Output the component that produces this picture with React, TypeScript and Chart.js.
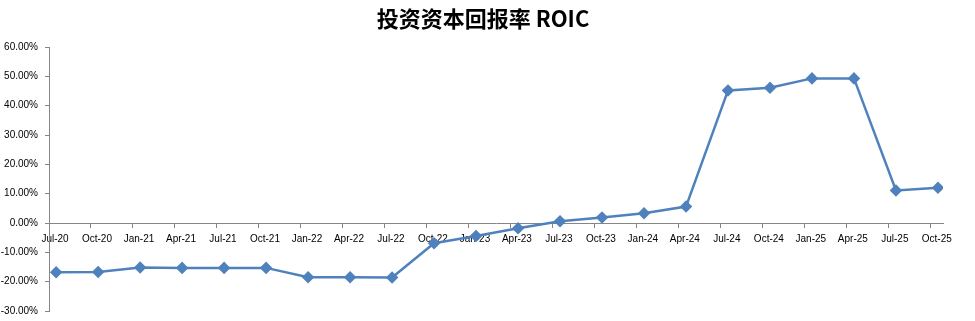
import React, { useEffect, useRef } from "react";
import { Chart, registerables } from "chart.js";

Chart.register(...registerables);

// Quarter labels shown under the axis
const quarters = [
  "Jul-20", "Oct-20", "Jan-21", "Apr-21", "Jul-21", "Oct-21",
  "Jan-22", "Apr-22", "Jul-22", "Oct-22", "Jan-23", "Apr-23",
  "Jul-23", "Oct-23", "Jan-24", "Apr-24", "Jul-24", "Oct-24",
  "Jan-25", "Apr-25", "Jul-25", "Oct-25",
];

// ROIC in percent, one value per quarter
const roic = [
  -16.8, -16.7, -15.2, -15.3, -15.3, -15.3,
  -18.5, -18.5, -18.6, -6.9, -4.4, -1.8,
  0.6, 1.9, 3.3, 5.6, 45.2, 46.1,
  49.3, 49.3, 11.1, 12.0,
];

const yTicksMin = -30;
const yTicksMax = 60;
const yStep = 10;

const title = "投资资本回报率 ROIC";

// Report dates sit a little after each quarter's tick on the date axis
const pointShift = 0.17;

const titlePlugin = {
  id: "centerTitle",
  afterDraw(chart: any) {
    const { ctx } = chart;
    ctx.save();
    ctx.font = 'bold 22px "Noto Sans CJK SC", sans-serif';
    ctx.fillStyle = "#000000";
    ctx.textAlign = "center";
    ctx.textBaseline = "middle";
    ctx.fillText(title, 483, 19);
    ctx.restore();
  },
};

export default function App() {
  const ref = useRef<HTMLCanvasElement | null>(null);

  useEffect(() => {
    if (!ref.current) return;
    const axisColor = "#868686";
    const tickFont = { family: '"Liberation Sans", Arial, sans-serif', size: 10 };
    const chart = new Chart(ref.current, {
      type: "line",
      data: {
        datasets: [
          {
            label: "ROIC",
            data: roic.map((v, i) => ({ x: i + pointShift, y: v })),
            borderColor: "#4F81BD",
            backgroundColor: "#4F81BD",
            borderWidth: 2.5,
            pointStyle: "rectRot",
            pointRadius: 4.5,
            pointBackgroundColor: "#4F81BD",
            pointBorderColor: "#4F81BD",
            tension: 0,
          },
        ],
      },
      options: {
        animation: false,
        responsive: false,
        maintainAspectRatio: false,
        layout: { padding: { top: 47, right: 32, bottom: 10, left: 0 } },
        plugins: {
          legend: { display: false },
          title: { display: false },
          tooltip: { enabled: false },
        },
        scales: {
          x: {
            type: "linear",
            position: { y: 0 },
            min: 0,
            max: 21.29,
            afterBuildTicks: (scale: any) => {
              scale.ticks = quarters.map((_, i) => ({ value: i }));
            },
            // the axis runs through zero, so it takes no room at the bottom
            afterFit: (scale: any) => {
              scale.height = 0;
            },
            grid: {
              display: true,
              drawOnChartArea: false,
              drawTicks: true,
              tickLength: 4,
              tickColor: axisColor,
            },
            border: { display: true, color: axisColor, width: 1 },
            ticks: {
              autoSkip: false,
              maxRotation: 0,
              padding: 6,
              labelOffset: 6,
              color: "#000000",
              font: tickFont,
              callback: (v: any) => quarters[Math.round(Number(v))] ?? "",
            },
          },
          y: {
            type: "linear",
            min: yTicksMin,
            max: yTicksMax,
            afterFit: (scale: any) => {
              scale.width = 49;
              scale.paddingTop = 0;
              scale.paddingBottom = 0;
            },
            grid: {
              display: true,
              drawOnChartArea: false,
              drawTicks: true,
              tickLength: 4,
              tickColor: axisColor,
            },
            border: { display: true, color: axisColor, width: 1 },
            ticks: {
              stepSize: yStep,
              padding: 7,
              color: "#000000",
              font: tickFont,
              callback: (v: any) => Number(v).toFixed(2) + "%",
            },
          },
        },
      },
      plugins: [titlePlugin],
    });
    return () => chart.destroy();
  }, []);

  return (
    <div
      style={{
        position: "fixed",
        left: 0,
        top: 0,
        width: 975,
        height: 321,
        background: "#ffffff",
      }}
    >
      <canvas ref={ref} width={975} height={321} />
    </div>
  );
}
